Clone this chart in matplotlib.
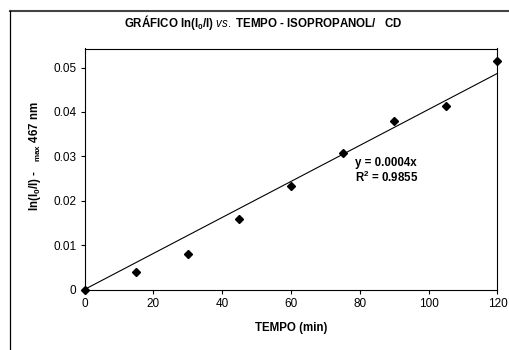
import numpy as np
import matplotlib
matplotlib.use("Agg")
import matplotlib.pyplot as plt
from matplotlib.lines import Line2D

plt.rcParams['font.family'] = ['Liberation Sans', 'DejaVu Sans']
plt.rcParams['mathtext.fontset'] = 'custom'
plt.rcParams['mathtext.rm'] = 'Liberation Sans'
plt.rcParams['mathtext.bf'] = 'Liberation Sans:bold'
plt.rcParams['mathtext.it'] = 'Liberation Sans:italic'

# data
tempo = [0, 15, 30, 45, 60, 75, 90, 105, 120]
ln_i0_i = [0.0, 0.0039, 0.0079, 0.0158, 0.0234, 0.0307, 0.0379, 0.0413, 0.0514]
x_ticks = [0, 20, 40, 60, 80, 100, 120]
y_ticks = [0, 0.01, 0.02, 0.03, 0.04, 0.05]
y_tick_labels = ['0', '0.01', '0.02', '0.03', '0.04', '0.05']

W, H = 509, 350
fig = plt.figure(figsize=(W / 100, H / 100), dpi=100)
ax = fig.add_axes([84.5 / W, 1 - 289.5 / H, 413 / W, 241 / H])

x = np.array(tempo, dtype=float)
y = np.array(ln_i0_i)
# linear trend forced through the origin
slope = np.sum(x * y) / np.sum(x * x)
xf = np.array([0, 120.0])
ax.plot(xf, slope * xf, color='black', lw=0.8, zorder=2)
ax.plot(x, y, ls='none', marker='D', ms=4.5, color='black', clip_on=False, zorder=3)

ax.set_xlim(0, 120)
ax.set_ylim(0, 0.0543)
ax.set_xticks(x_ticks)
ax.set_xticklabels([str(t) for t in x_ticks])
ax.set_yticks(y_ticks)
ax.set_yticklabels(y_tick_labels)
ax.tick_params(direction='out', length=3, width=0.8, labelsize=8.5, pad=3, colors='black')
for s in ax.spines.values():
    s.set_linewidth(0.8)
    s.set_color('black')

# outer chart frame (only top and left edges visible)
fig.add_artist(Line2D([9.5 / W, 1], [1 - 11 / H, 1 - 11 / H], color='#444444', lw=1.5))
fig.add_artist(Line2D([9.5 / W, 9.5 / W], [0, 1 - 11 / H], color='black', lw=0.9))

fs = 8.3
fig.text(263 / W, 1 - 23 / H,
         r'GRÁFICO $\mathbf{ln(I_0/I)}$ $\mathit{vs.}$ TEMPO - ISOPROPANOL/   CD',
         ha='center', va='center', fontsize=fs, fontweight='bold')
fig.text(35 / W, 1 - 156 / H, r'$\mathbf{ln(I_0/I)}$ -   $_{\mathbf{max}}$ 467 nm',
         rotation=90, ha='center', va='center', fontsize=fs, fontweight='bold')
fig.text(291 / W, 1 - 328 / H, 'TEMPO (min)', ha='center', va='center',
         fontsize=fs, fontweight='bold')

fig.text(355 / W, 1 - 163 / H, 'y = 0.0004x', ha='left', va='center',
         fontsize=fs, fontweight='bold')
fig.text(355 / W, 1 - 177 / H, r'R$^\mathbf{2}$ = 0.9855', ha='left', va='center',
         fontsize=fs, fontweight='bold')

fig.savefig('out.png', dpi=100)
